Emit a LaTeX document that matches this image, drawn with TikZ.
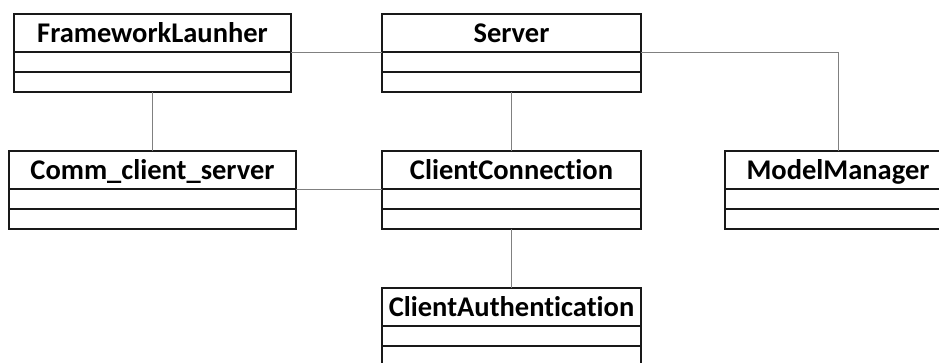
\documentclass[tikz,border=0pt]{standalone}
\usepackage{fontspec}
\setmainfont{Carlito}[Ligatures=NoCommon]
\usepackage{tikz}
\usetikzlibrary{positioning}
\tikzset{
  classname/.style={draw=black!90, line width=1.2pt, inner sep=0pt, outer sep=0pt, minimum height=38pt, text height=21pt, text depth=3pt, align=center, font=\bfseries\fontsize{28.5}{32}\selectfont, anchor=north},
  classpart/.style={draw=black!90, line width=1.2pt, inner sep=0pt, outer sep=0pt, minimum height=20pt},
  link/.style={draw=black!50, line width=1pt}
}

\begin{document}
\begin{tikzpicture}[x=1pt, y=-1pt, node distance=0pt]
  \useasboundingbox (0,0) rectangle (939,362);

  \node[classname, minimum width=277pt] (launcher) at (152.5,14) {FrameworkLaunher};
  \node[classpart, minimum width=277pt, below=of launcher] (launcherattr) {};
  \node[classpart, minimum width=277pt, below=of launcherattr] (launcherops) {};

  \node[classname, minimum width=259pt] (server) at (511.5,14) {Server};
  \node[classpart, minimum width=259pt, below=of server] (serverattr) {};
  \node[classpart, minimum width=259pt, below=of serverattr] (serverops) {};

  \node[classname, minimum width=287pt] (comm) at (152.5,151) {Comm\_client\_server};
  \node[classpart, minimum width=287pt, below=of comm] (commattr) {};
  \node[classpart, minimum width=287pt, below=of commattr] (commops) {};

  \node[classname, minimum width=259pt] (conn) at (511.5,151) {ClientConnection};
  \node[classpart, minimum width=259pt, below=of conn] (connattr) {};
  \node[classpart, minimum width=259pt, below=of connattr] (connops) {};

  \node[classname, minimum width=226pt] (model) at (838,151) {ModelManager};
  \node[classpart, minimum width=226pt, below=of model] (modelattr) {};
  \node[classpart, minimum width=226pt, below=of modelattr] (modelops) {};

  \node[classname, minimum width=259pt] (auth) at (511.5,288) {ClientAuthentication};
  \node[classpart, minimum width=259pt, below=of auth] (authattr) {};
  \node[classpart, minimum width=259pt, below=of authattr] (authops) {};

  \draw[link] (launcher.south east) -- (server.south west);
  \draw[link] (server.south east) -| (model.north);
  \draw[link] (launcherops.south) -- (comm.north);
  \draw[link] (serverops.south) -- (conn.north);
  \draw[link] (comm.south east) -- (conn.south west);
  \draw[link] (connops.south) -- (auth.north);
\end{tikzpicture}
\end{document}
